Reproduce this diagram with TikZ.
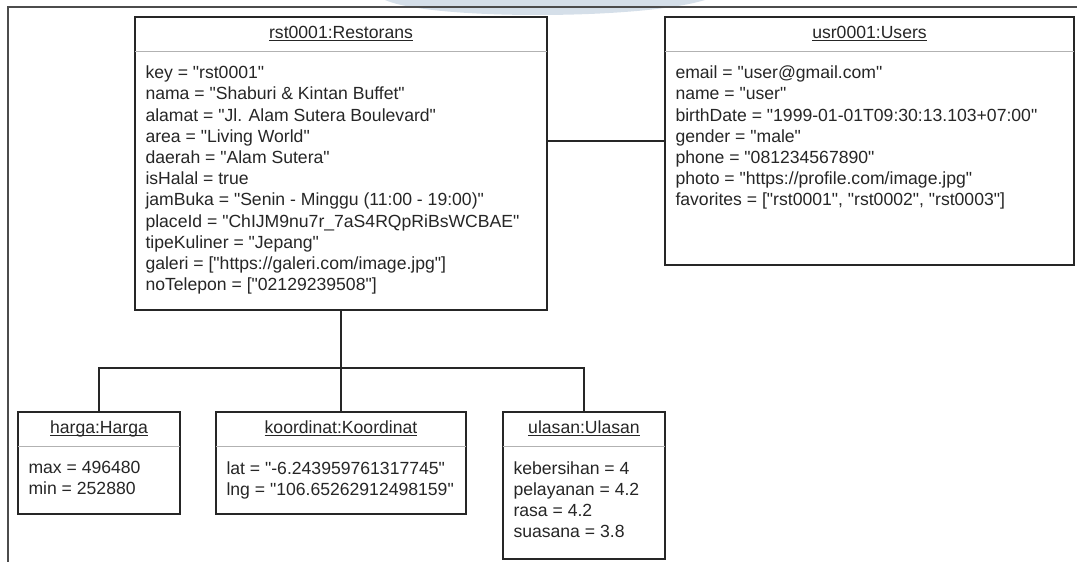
\documentclass[tikz,border=0pt]{standalone}
\usepackage{fontspec}
\newfontfamily\objfont{Liberation Sans}
\usetikzlibrary{calc}

\definecolor{wmark}{HTML}{D5DFE9}
\newcommand{\objname}[1]{\setbox0\hbox{#1}\rlap{\vrule width\wd0 height -1.6pt depth 2.8pt}#1}

\begin{document}
\begin{tikzpicture}[
    x=1pt, y=-1pt,
    every node/.style={
        font=\objfont\fontsize{17.6}{21.2}\selectfont,
        text=black!85
    },
    objbox/.style={
        draw=black!85,
        line width=1.4pt,
        fill=white,
        inner sep=0pt
    },
    objtitle/.style={inner sep=0pt, anchor=base},
    objattr/.style={inner sep=0pt, anchor=north west, align=left},
    divider/.style={draw=black!30, line width=1.4pt},
    link/.style={draw=black!85, line width=1.4pt},
    frameline/.style={draw=black!70, line width=1.4pt}
]

\useasboundingbox (0,0) rectangle (1077,562);

\fill[wmark] (385,0) .. controls (430,20) and (640,20) .. (705,0) -- cycle;
\draw[frameline] (8,562) -- (8,7) -- (1077,7);

\node[objbox, minimum width=412pt, minimum height=293pt] (rst) at (341,163.5) {};
\node[objbox, minimum width=409pt, minimum height=248pt] (usr) at (869.5,141) {};
\node[objbox, minimum width=162pt, minimum height=102pt] (harga) at (99,463) {};
\node[objbox, minimum width=250pt, minimum height=102pt] (koord) at (341,463) {};
\node[objbox, minimum width=162pt, minimum height=147pt] (ulasan) at (584,485.5) {};

\foreach \b in {rst,usr,harga,koord,ulasan}
    \draw[divider] ($(\b.north west)+(0.7,35)$) -- ($(\b.north east)+(-0.7,35)$);

\node[objtitle] (rst-title) at ($(rst.north)+(0,22)$) {\objname{rst0001:Restorans}};
\node[objtitle] (usr-title) at ($(usr.north)+(0,22)$) {\objname{usr0001:Users}};
\node[objtitle] (harga-title) at ($(harga.north)+(0,22)$) {\objname{harga:Harga}};
\node[objtitle] (koord-title) at ($(koord.north)+(0,22)$) {\objname{koordinat:Koordinat}};
\node[objtitle] (ulasan-title) at ($(ulasan.north)+(0,22)$) {\objname{ulasan:Ulasan}};

\node[objattr] (rst-attr) at ($(rst.north west)+(11,49.5)$) {key = "rst0001"\\
nama = "Shaburi \& Kintan Buffet"\\
alamat = "Jl. Alam Sutera Boulevard"\\
area = "Living World"\\
daerah = "Alam Sutera"\\
isHalal = true\\
jamBuka = "Senin - Minggu (11:00 - 19:00)"\\
placeId = "ChIJM9nu7r\_7aS4RQpRiBsWCBAE"\\
tipeKuliner = "Jepang"\\
galeri = ["https://galeri.com/image.jpg"]\\
noTelepon = ["02129239508"]};

\node[objattr] (usr-attr) at ($(usr.north west)+(11,49.5)$) {email = "user@gmail.com"\\
name = "user"\\
birthDate = "1999-01-01T09:30:13.103+07:00"\\
gender = "male"\\
phone = "081234567890"\\
photo = "https://profile.com/image.jpg"\\
favorites = ["rst0001", "rst0002", "rst0003"]};

\node[objattr] (harga-attr) at ($(harga.north west)+(11,50)$) {max = 496480\\
min = 252880};
\node[objattr] (koord-attr) at ($(koord.north west)+(11,50)$) {lat = "-6.243959761317745"\\
lng = "106.65262912498159"};
\node[objattr] (ulasan-attr) at ($(ulasan.north west)+(11,50)$) {kebersihan = 4\\
pelayanan = 4.2\\
rasa = 4.2\\
suasana = 3.8};

% links
\coordinate (bus) at (rst.south |- 0,368);
\draw[link] (rst.east |- usr.west) -- (usr.west);
\draw[link] (rst.south) -- (bus);
\draw[link] (bus) -| (harga.north);
\draw[link] (bus) -- (koord.north);
\draw[link] (bus) -| (ulasan.north);

\end{tikzpicture}
\end{document}
